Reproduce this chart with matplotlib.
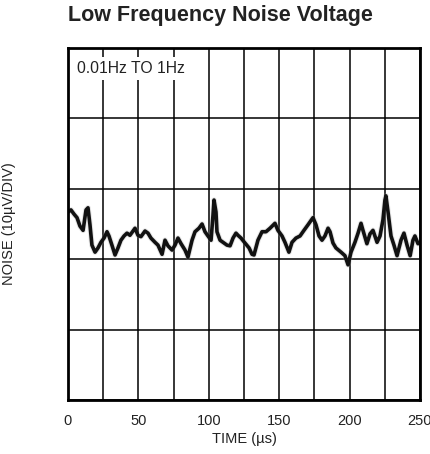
import matplotlib
matplotlib.use("Agg")
import matplotlib.pyplot as plt
import numpy as np

plt.rcParams['font.family'] = ['Liberation Sans Narrow', 'Liberation Sans', 'DejaVu Sans']

title = "Low Frequency Noise Voltage"
xlabel = "TIME (\u00b5s)"
ylabel = "NOISE (10\u00b5V/DIV)"
annotation = "0.01Hz TO 1Hz"
xticks = [0, 50, 100, 150, 200, 250]

time_us = [0, 2.1, 4.3, 6.4, 8.5, 10.7, 12.8, 14.2, 15.6, 17.0, 19.2, 21.3, 23.4, 25.6, 27.7,
           29.1, 31.2, 33.4, 35.5, 37.6, 39.8, 41.9, 44.0, 47.6, 49.7, 51.8, 54.7, 56.8, 58.9,
           61.8, 63.9, 66.8, 68.9, 71.0, 73.9, 76.0, 78.1, 80.3, 83.1, 85.2, 88.1, 90.2, 93.0,
           95.2, 97.3, 99.4, 101.6, 103.0, 103.7, 105.1, 105.8, 108.0, 110.1, 112.9, 115.1,
           117.2, 119.3, 120.7, 122.9, 125.7, 128.6, 130.7, 132.1, 134.9, 137.8, 140.6, 143.5,
           147.0, 149.1, 152.0, 154.1, 156.9, 159.1, 161.9, 164.8, 167.6, 170.5, 174.0, 176.1,
           178.3, 180.4, 182.5, 184.7, 186.1, 188.2, 190.3, 193.9, 196.7, 198.9, 201.0, 203.8,
           206.0, 208.1, 209.5, 212.3, 214.5, 216.6, 219.5, 221.6, 223.7, 225.1, 225.8, 227.3,
           229.4, 231.5, 233.7, 236.5, 238.6, 240.8, 243.0, 245.0, 246.4, 248.6, 250.0]
noise_div = [2.67, 2.70, 2.64, 2.59, 2.47, 2.41, 2.70, 2.73, 2.49, 2.20, 2.10, 2.16, 2.24, 2.30, 2.39,
             2.33, 2.20, 2.06, 2.16, 2.27, 2.33, 2.37, 2.34, 2.44, 2.34, 2.32, 2.40, 2.37, 2.30,
             2.24, 2.20, 2.07, 2.27, 2.19, 2.13, 2.20, 2.30, 2.22, 2.13, 2.03, 2.27, 2.39, 2.44,
             2.50, 2.39, 2.33, 2.27, 2.63, 2.84, 2.67, 2.39, 2.27, 2.24, 2.20, 2.19,
             2.30, 2.37, 2.34, 2.30, 2.23, 2.16, 2.07, 2.06, 2.27, 2.39, 2.39, 2.44,
             2.51, 2.41, 2.33, 2.24, 2.10, 2.24, 2.30, 2.33, 2.41, 2.49, 2.59, 2.49,
             2.33, 2.27, 2.33, 2.44, 2.39, 2.23, 2.16, 2.10, 2.05, 1.92, 2.10, 2.24,
             2.37, 2.51, 2.41, 2.22, 2.36, 2.41, 2.24, 2.33, 2.56, 2.84, 2.90, 2.67,
             2.33, 2.20, 2.05, 2.27, 2.37, 2.20, 2.05, 2.27, 2.33, 2.22, 2.24]

W, H = 431, 454
fig = plt.figure(figsize=(W / 100, H / 100), dpi=100)
ax = fig.add_axes([68 / W, 1 - 400 / H, 352 / W, 352 / H])

ax.set_xlim(0, 250)
ax.set_ylim(0, 5)
ax.set_xticks(np.arange(0, 251, 25), minor=False)
ax.set_yticks(np.arange(0, 6, 1))
ax.grid(True, color='black', linewidth=1.1)
ax.set_axisbelow(True)
ax.tick_params(axis='both', length=0)
ax.set_yticklabels([])
ax.set_xticklabels([str(int(v)) if v in xticks else "" for v in np.arange(0, 251, 25)],
                   fontsize=10.5, color='#222222')
ax.tick_params(axis='x', pad=10)
for s in ax.spines.values():
    s.set_linewidth(2.0)
    s.set_color('black')

ax.plot(time_us, noise_div, color='#999999', linewidth=4.0, alpha=0.25, solid_joinstyle='round')
ax.plot(time_us, noise_div, color='#111111', linewidth=2.6, solid_joinstyle='round')

ax.text(6.5, 4.71, annotation, fontsize=11.3, color='#222222', va='center', ha='left',
        bbox=dict(facecolor='white', edgecolor='none', pad=3))

ax.set_xlabel(xlabel, fontsize=10.5, color='#222222', labelpad=3)
ax.set_ylabel(ylabel, fontsize=10.5, color='#222222', labelpad=34)

fig.text(220 / W, 1 - 15 / H, title, fontsize=15.5, fontweight='bold', ha='center', va='center',
         color='#222222')

fig.savefig("out.png", dpi=100)
